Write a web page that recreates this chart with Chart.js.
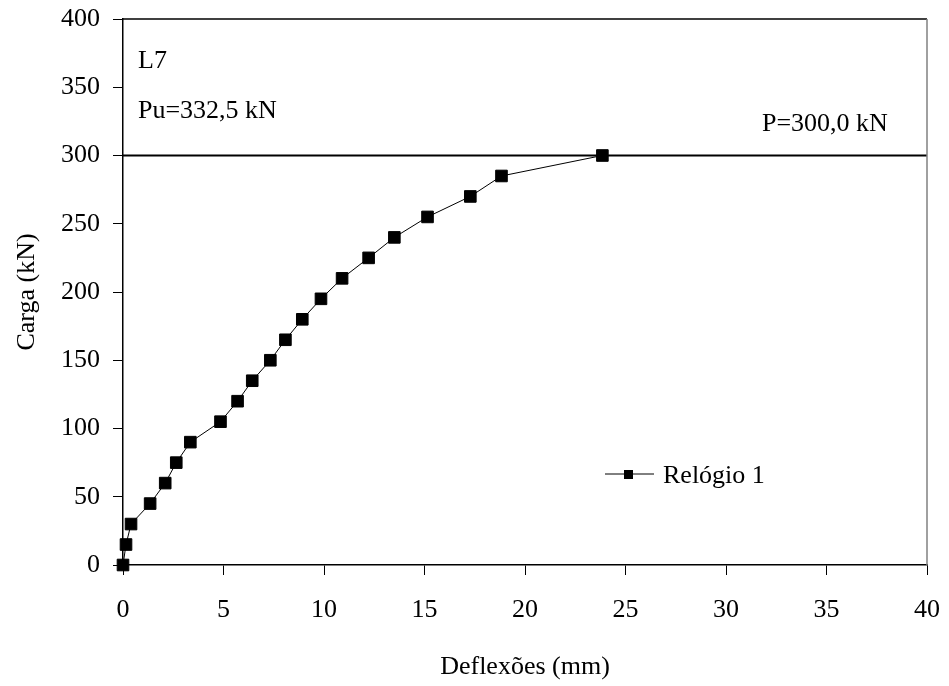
<!DOCTYPE html>
<html>
<head>
<meta charset="utf-8">
<script src="https://cdn.jsdelivr.net/npm/chart.js@4.4.1/dist/chart.umd.min.js"></script>
<style>
  html, body { margin: 0; padding: 0; background: #fff; }
  #wrap { width: 949px; height: 686px; }
</style>
</head>
<body>
<div id="wrap"><canvas id="lineChart" width="949" height="686"></canvas></div>
<script>
const deflexoes = [0, 0.15, 0.4, 1.35, 2.1, 2.65, 3.35, 4.85, 5.7, 6.43, 7.33, 8.08, 8.92, 9.85, 10.9, 12.22, 13.5, 15.15, 17.28, 18.83, 23.85];
const cargas = [0, 15, 30, 45, 60, 75, 90, 105, 120, 135, 150, 165, 180, 195, 210, 225, 240, 255, 270, 285, 300];
const cargaLimite = 300;
const xTicks = [0, 5, 10, 15, 20, 25, 30, 35, 40];
const yTicks = [0, 50, 100, 150, 200, 250, 300, 350, 400];

const serif = "'Liberation Serif', 'Times New Roman', serif";
const ctxEl = document.getElementById("lineChart");

let points = [];
deflexoes.forEach((d, i) => {
  points.push({ x: d, y: cargas[i] });
});

// textos e legenda desenhados por cima
const extras = {
  id: "extras",
  afterDraw(chart) {
    const c = chart.ctx;
    const a = chart.chartArea;
    c.save();
    // borda superior e direita
    c.strokeStyle = "#000";
    c.lineWidth = 1.5;
    c.beginPath();
    c.moveTo(a.left, a.top);
    c.lineTo(a.right, a.top);
    c.stroke();
    c.strokeStyle = "#808080";
    c.beginPath();
    c.moveTo(a.right, a.top);
    c.lineTo(a.right, a.bottom);
    c.stroke();

    c.fillStyle = "#000";
    c.font = "26px " + serif;
    c.textAlign = "left";
    c.textBaseline = "alphabetic";
    c.fillText("L7", a.left + 15, 68);
    c.fillText("Pu=332,5 kN", a.left + 15, 118);
    c.fillText("P=300,0 kN", 762, 131);

    // legenda
    c.strokeStyle = "#000";
    c.lineWidth = 1;
    c.beginPath();
    c.moveTo(605, 474);
    c.lineTo(654, 474);
    c.stroke();
    c.fillRect(624, 470, 9, 9);
    c.fillText("Relógio 1", 663, 483);
    c.restore();
  }
};

new Chart(ctxEl, {
  type: "scatter",
  data: {
    datasets: [
      {
        label: "Relógio 1",
        data: points,
        showLine: true,
        clip: false,
        borderColor: "#000",
        backgroundColor: "#000",
        borderWidth: 1,
        pointStyle: "rect",
        pointRadius: 8.2,
        pointHoverRadius: 8.2,
        order: 1
      },
      {
        label: "P",
        data: [{ x: 0, y: cargaLimite }, { x: 40, y: cargaLimite }],
        showLine: true,
        borderColor: "#000",
        borderWidth: 2,
        pointRadius: 0,
        order: 2
      }
    ]
  },
  options: {
    responsive: false,
    animation: false,
    layout: { padding: { top: 19, right: 22, left: 0, bottom: 0 } },
    plugins: {
      legend: { display: false },
      tooltip: { enabled: false }
    },
    scales: {
      x: {
        type: "linear",
        min: 0,
        max: 40,
        afterBuildTicks: (s) => { s.ticks = xTicks.map(v => ({ value: v })); },
        afterFit: (s) => { s.height = 121; s.paddingLeft = 0; s.paddingRight = 0; },
        border: { display: true, color: "#000", width: 1.5 },
        grid: { drawOnChartArea: false, drawTicks: true, tickLength: 10, color: "#000" },
        ticks: { color: "#000", padding: 20, font: { family: serif, size: 26 }, maxRotation: 0 },
        title: {
          display: true,
          text: "Deflexões (mm)",
          color: "#000",
          font: { family: serif, size: 26 },
          padding: { top: 0, bottom: 3 }
        }
      },
      y: {
        type: "linear",
        min: 0,
        max: 400,
        afterBuildTicks: (s) => { s.ticks = yTicks.map(v => ({ value: v })); },
        afterFit: (s) => { s.width = 123; s.paddingTop = 0; s.paddingBottom = 0; },
        border: { display: true, color: "#000", width: 1.5 },
        grid: { drawOnChartArea: false, drawTicks: true, tickLength: 10, color: "#000" },
        ticks: { color: "#000", padding: 13, font: { family: serif, size: 26 } },
        title: {
          display: true,
          text: "Carga (kN)",
          color: "#000",
          font: { family: serif, size: 26 },
          padding: { top: 12, bottom: 0 }
        }
      }
    }
  },
  plugins: [extras]
});
</script>
</body>
</html>
